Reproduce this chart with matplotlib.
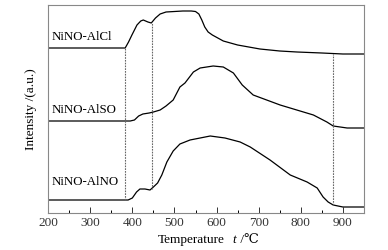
import numpy as np
import matplotlib
matplotlib.use('Agg')
import matplotlib.pyplot as plt

plt.rcParams['font.family'] = ['Liberation Serif', 'DejaVu Serif']

# TPR curves (temperature in C, intensity in arbitrary units)
t_alcl = [200, 370, 383, 391, 399, 411, 420, 426, 437, 445, 455, 466, 480, 500, 520, 540,
          550, 558, 565, 572, 580, 590, 616, 650, 703, 750, 791, 850, 900, 950]
i_alcl = [165, 165, 165, 171, 178, 188, 192, 193, 191, 190, 195, 199, 201, 201.5, 202, 202,
          201.5, 199, 193, 186, 181, 178, 172, 168, 164, 162, 161, 160, 159, 159]

t_also = [200, 395, 405, 415, 425, 440, 450, 466, 480, 497, 513, 525, 545, 561, 592, 616,
          640, 661, 687, 751, 830, 862, 877, 910, 950]
i_also = [92, 92, 93, 97, 99, 100, 101, 103, 107, 113, 126, 130, 141, 145, 147, 146,
          140, 128, 118, 108, 98, 91, 87, 85, 85]

t_alno = [200, 390, 400, 410, 418, 430, 442, 450, 460, 470, 482, 497, 513, 537, 561, 585,
          620, 656, 680, 727, 775, 815, 839, 853, 865, 877, 900, 950]
i_alno = [13, 13, 15, 21, 24, 24, 23, 26, 30, 38, 51, 62, 69, 73, 75, 77,
          75, 71, 66, 53, 38, 31, 25, 16, 11, 8, 6, 6]

labels = ['NiNO-AlCl', 'NiNO-AlSO', 'NiNO-AlNO']
label_y = [176, 103, 31]
marks = [383, 446, 877]

fig = plt.figure(figsize=(3.88, 2.5), dpi=100)
ax = fig.add_axes([0.124, 0.148, 0.814, 0.832])

for t, i in [(t_alcl, i_alcl), (t_also, i_also), (t_alno, i_alno)]:
    ax.plot(t, i, color='black', lw=0.9)

# dotted guide lines between bottom and top curve
for m in marks:
    lo = np.interp(m, t_alno, i_alno)
    hi = np.interp(m, t_alcl, i_alcl)
    ax.plot([m, m], [lo, hi], color='#666666', lw=0.8, ls=(0, (1.5, 1)))

for lab, y in zip(labels, label_y):
    ax.text(208, y, lab, fontsize=9.3, va='center', ha='left')

ax.set_xlim(200, 950)
ax.set_ylim(0, 208)
ax.set_xticks(range(200, 1000, 100))
ax.set_xticks(range(250, 950, 100), minor=True)
ax.set_yticks([])
ax.tick_params(axis='x', direction='in', length=4, width=0.7, labelsize=9.5, pad=3, colors='#333333')
ax.tick_params(axis='x', which='minor', direction='in', length=2, width=0.7)
for s in ax.spines.values():
    s.set_color('#888888')
    s.set_linewidth(0.8)

ax.set_ylabel('Intensity /(a.u.)', fontsize=9.5, labelpad=8)

# x label: "Temperature   t /℃"
fig.text(191 / 388, 1 - 240 / 250, 'Temperature', fontsize=9.5, ha='center', va='center')
fig.text(232 / 388, 1 - 240 / 250, 't', fontsize=9.5, style='italic', ha='left', va='center')
fig.text(237 / 388, 1 - 240 / 250, ' /\u2103', fontsize=9.5, ha='left', va='center',
         family=['Liberation Serif', 'DejaVu Serif'])

fig.savefig('out.png', dpi=100)
